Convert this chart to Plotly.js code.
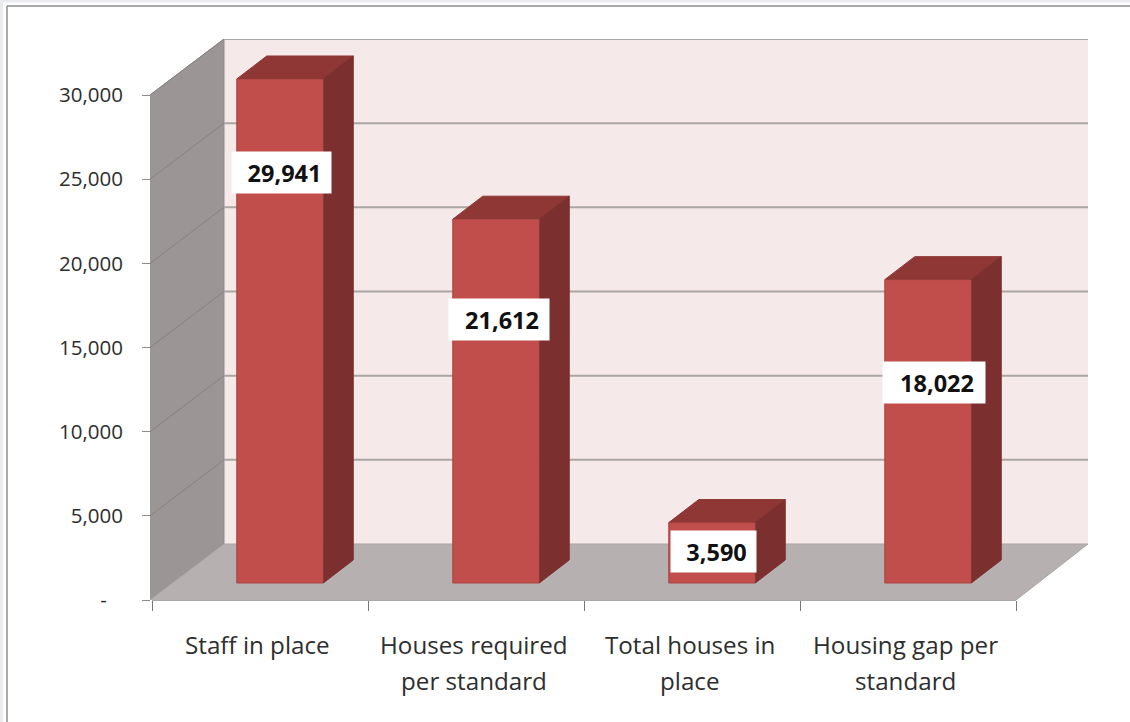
<!DOCTYPE html>
<html>
<head>
<meta charset="utf-8">
<script src="https://cdn.plot.ly/plotly-3.0.1.min.js"></script>
<style>html,body{margin:0;padding:0;background:#fff}</style>
</head>
<body>
<div id="chart" style="width:1130px;height:722px"></div>
<script>
// Data
const categories = ["Staff in place", "Houses required per standard", "Total houses in place", "Housing gap per standard"];
const categoryLines = [["Staff in place"], ["Houses required", "per standard"], ["Total houses in", "place"], ["Housing gap per", "standard"]];
const values = [29941, 21612, 3590, 18022];
const yTicks = [0, 5000, 10000, 15000, 20000, 25000, 30000];
const yTickLabels = ["-\u00a0\u00a0\u00a0", "5,000", "10,000", "15,000", "20,000", "25,000", "30,000"];

// Label placement (value units along the axis, category-unit offset, box width)
const labelAt = [25396, 16667, 2881, 12921];
const labelDx = [0.005, 0.014, 0.009, 0.028];
const labelW = [97, 98, 83, 100];

// Pseudo-3D geometry, pixels to axis units
const W = 1130, H = 722;
const frontL = 152, frontR = 1016, y0px = 600, y30px = 95;
const pxX = (frontR - frontL) / 4, pxY = (y0px - y30px) / 30000;
const wallDX = 72 / pxX, wallDY = 56 / pxY;
const barShift = 20 / pxX, barBase = 17 / pxY, barWidth = 86.5 / pxX;
const barDX = 30 / pxX, barDY = 23 / pxY;
const xLeft = -0.5 - 2 / pxX, xRight = -0.5 + wallDX + 4;
const yTop = 30000 + wallDY;

const cFront = "#c24e4c", cSide = "#7b2f2e", cTop = "#8e3735", cEdge = "#a84442";
const poly = (xs, ys, color, lineColor) => ({
  type: "scatter", mode: "lines", x: xs, y: ys, fill: "toself", fillcolor: color,
  line: {color: lineColor || color, width: 1}, hoverinfo: "skip", showlegend: false
});
const traces = [];
// Walls
traces.push(poly([-0.5 + wallDX, 3.5 + wallDX, 3.5 + wallDX, -0.5 + wallDX], [wallDY, wallDY, yTop, yTop], "#f5e9e9"));
traces.push(poly([xLeft, -0.5 + wallDX, -0.5 + wallDX, xLeft], [0, wallDY, yTop, 30000], "#9b9695", "#918c8b"));
traces.push(poly([xLeft, -0.5 + wallDX, 3.5 + wallDX, 3.5], [0, wallDY, wallDY, 0], "#b6b0b0", "#a9a4a4"));
// Grid lines on the back and side walls
yTicks.slice(1).forEach(t => {
  traces.push({type: "scatter", mode: "lines", x: [-0.5 + wallDX, 3.5 + wallDX], y: [t + wallDY, t + wallDY], cliponaxis: false,
    line: {color: "#a9a6a5", width: 2}, hoverinfo: "skip", showlegend: false});
  traces.push({type: "scatter", mode: "lines", x: [xLeft, -0.5 + wallDX], y: [t, t + wallDY],
    line: {color: "#868281", width: 1}, hoverinfo: "skip", showlegend: false});
});

// Bars: front faces via a bar trace, depth faces via filled polygons on the same axes
const barTraces = [{
  type: "bar", x: values.map((v, i) => i + barShift), y: values, base: values.map(() => barBase),
  width: barWidth, marker: {color: cFront, line: {color: cEdge, width: 1}},
  xaxis: "x2", yaxis: "y2", hoverinfo: "y", showlegend: false
}];
values.forEach((v, i) => {
  const l = i + barShift - barWidth / 2, r = l + barWidth, b = barBase, t = barBase + v;
  barTraces.push(Object.assign(poly([l, l + barDX, r + barDX, r], [t, t + barDY, t + barDY, t], cTop), {xaxis: "x2", yaxis: "y2"}));
  barTraces.push(Object.assign(poly([r, r + barDX, r + barDX, r], [b, b + barDY, t + barDY, t], cSide), {xaxis: "x2", yaxis: "y2"}));
});

// Axis-only trace
const axisTrace = {type: "scatter", mode: "markers", x: categories, y: values, xaxis: "x3", yaxis: "y3",
  marker: {opacity: 0, size: 1}, hoverinfo: "skip", showlegend: false};

const domX = [(frontL - 2) / W, (frontL - 2 + (xRight - xLeft) * pxX) / W];
const domY = [1 - y0px / H, 1 - (y0px - yTop * pxY) / H];
const hidden = {visible: false, fixedrange: true};
const tickFont = {family: "Open Sans, sans-serif", size: 20.5, color: "#2e2e2e"};

const annotations = [];
values.forEach((v, i) => {
  annotations.push({
    xref: "x2", yref: "y2", x: i + barShift + labelDx[i], y: labelAt[i], showarrow: false,
    text: "\u00a0<b>" + v.toLocaleString("en-US") + "</b>", bgcolor: "#ffffff", width: labelW[i], height: 39,
    font: {family: "Open Sans, sans-serif", size: 23.5, color: "#111111"}, align: "center"
  });
});
categoryLines.forEach((lines, i) => lines.forEach((txt, k) => {
  annotations.push({
    xref: "x3", yref: "paper", x: i, y: 1 - (644 + 36 * k) / H, yanchor: "middle", showarrow: false, xshift: -2.5,
    text: txt, font: {family: "Open Sans, sans-serif", size: 24.2, color: "#2e2e2e"}
  });
}));

const seg = (x0, y0, x1, y1, color, width) => ({type: "line", xref: "paper", yref: "paper", layer: "below",
  x0: x0 / W, x1: x1 / W, y0: 1 - y0 / H, y1: 1 - y1 / H, line: {color, width}});
const box = (x0, y0, x1, y1, color) => ({type: "rect", xref: "paper", yref: "paper", layer: "below",
  x0: x0 / W, x1: x1 / W, y0: 1 - y0 / H, y1: 1 - y1 / H, fillcolor: color, line: {width: 0}});

const layout = {
  width: W, height: H, autosize: false, margin: {l: 0, r: 0, t: 0, b: 0},
  paper_bgcolor: "#ffffff", plot_bgcolor: "rgba(0,0,0,0)", showlegend: false, barmode: "overlay", hovermode: false,
  xaxis: Object.assign({domain: domX, range: [xLeft, xRight], anchor: "y"}, hidden),
  yaxis: Object.assign({domain: domY, range: [0, yTop], anchor: "x"}, hidden),
  xaxis2: Object.assign({domain: domX, range: [xLeft, xRight], anchor: "y2"}, hidden),
  yaxis2: Object.assign({domain: domY, range: [0, yTop], anchor: "x2"}, hidden),
  xaxis3: {
    domain: [frontL / W, frontR / W], range: [-0.5, 3.5], type: "category", categoryarray: categories, categoryorder: "array",
    anchor: "y3", tickson: "boundaries", ticks: "outside", ticklen: 10, tickcolor: "#777777", tickwidth: 1,
    showline: true, linecolor: "#a8a8a8", linewidth: 1, showgrid: false, zeroline: false, showticklabels: false, fixedrange: true
  },
  yaxis3: {
    domain: [1 - y0px / H, 1 - y30px / H], range: [0, 30000], anchor: "free", position: (frontL - 2) / W, side: "left",
    tickmode: "array", tickvals: yTicks, ticktext: yTickLabels, ticks: "outside", ticklen: 8, tickcolor: "#8a8a8a", tickwidth: 1,
    ticklabelstandoff: 15, tickfont: tickFont, showline: false, showgrid: false, zeroline: false, fixedrange: true
  },
  annotations,
  shapes: [
    box(0, 0, W, 2.5, "#e9ebee"), box(0, 0, 3, H, "#e9ebee"),
    seg(7, 6, W, 6, "#8d8d8d", 1.5), seg(7, 6, 7, H, "#8d8d8d", 1.5)
  ]
};

Plotly.newPlot("chart", traces.concat(barTraces, [axisTrace]), layout, {displayModeBar: false, staticPlot: true});
</script>
</body>
</html>
